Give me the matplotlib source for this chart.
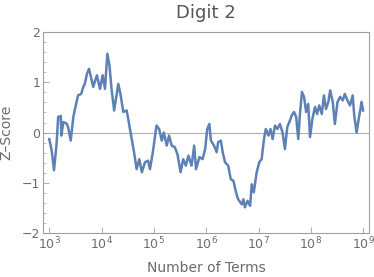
import numpy as np
import matplotlib
matplotlib.use("Agg")
import matplotlib.pyplot as plt
from matplotlib.ticker import FixedLocator, MultipleLocator

# log10 of the number of terms, and the running z-score
log_terms = [3.00, 3.046, 3.09, 3.14, 3.17, 3.22, 3.23, 3.27, 3.33, 3.36, 3.41, 3.46,
             3.50, 3.55, 3.61, 3.65, 3.68, 3.72, 3.76, 3.84, 3.91, 3.97, 4.02, 4.065,
             4.11, 4.15, 4.19, 4.24, 4.32, 4.365, 4.415, 4.48, 4.53, 4.575, 4.62, 4.67,
             4.72, 4.77, 4.83, 4.89, 4.925, 4.98, 5.05, 5.10, 5.15, 5.19, 5.245, 5.29,
             5.34, 5.40, 5.45, 5.51, 5.56, 5.61, 5.66, 5.72, 5.77, 5.805, 5.87, 5.93,
             5.98, 6.02, 6.06, 6.09, 6.15, 6.20, 6.23, 6.28, 6.315, 6.36, 6.42, 6.47,
             6.52, 6.57, 6.61, 6.68, 6.71, 6.74, 6.79, 6.84, 6.87, 6.91, 6.965, 7.015,
             7.06, 7.105, 7.14, 7.19, 7.23, 7.27, 7.315, 7.36, 7.41, 7.46, 7.505, 7.55,
             7.59, 7.635, 7.68, 7.72, 7.76, 7.79, 7.83, 7.87, 7.91, 7.95, 7.985, 8.03,
             8.08, 8.12, 8.16, 8.21, 8.25, 8.29, 8.335, 8.37, 8.42, 8.46, 8.51, 8.56,
             8.61, 8.65, 8.70, 8.75, 8.80, 8.83, 8.875, 8.915, 8.95, 8.97, 9.00]
z_score = [-0.13, -0.36, -0.75, -0.22, 0.31, 0.33, -0.06, 0.21, 0.18, 0.11, -0.16, 0.31,
           0.51, 0.74, 0.77, 0.91, 0.97, 1.17, 1.27, 0.91, 1.14, 0.87, 1.14, 0.87,
           1.57, 1.34, 0.87, 0.44, 0.97, 0.74, 0.41, 0.44, 0.14, -0.13, -0.39, -0.73,
           -0.53, -0.79, -0.59, -0.56, -0.73, -0.39, 0.14, 0.07, -0.16, 0.0, -0.26, -0.06,
           -0.26, -0.29, -0.43, -0.79, -0.53, -0.66, -0.46, -0.66, -0.26, -0.73, -0.49, -0.53,
           -0.33, 0.07, 0.17, -0.16, -0.26, -0.39, -0.19, -0.16, -0.39, -0.59, -0.66, -0.93,
           -0.96, -1.19, -1.33, -1.43, -1.33, -1.49, -1.36, -1.46, -1.03, -1.19, -0.79, -0.59,
           -0.53, -0.13, 0.07, -0.06, 0.07, -0.13, 0.14, 0.07, 0.17, 0.0, -0.33, 0.11,
           0.21, 0.34, 0.41, 0.31, -0.13, 0.34, 0.81, 0.71, 0.41, 0.57, -0.09, 0.27,
           0.51, 0.37, 0.54, 0.37, 0.74, 0.47, 0.61, 0.84, 0.61, 0.17, 0.61, 0.71,
           0.64, 0.77, 0.64, 0.54, 0.74, 0.34, 0.0, 0.27, 0.47, 0.61, 0.44]

x_ticks = [1e3, 1e4, 1e5, 1e6, 1e7, 1e8, 1e9]
x_labels = ["$10^{%d}$" % k for k in range(3, 10)]
y_ticks = [-2, -1, 0, 1, 2]
y_labels = ["\u22122", "\u22121", "0", "1", "2"]

text_gray = "#6b6b6b"
frame_gray = "#a0a0a0"

fig = plt.figure(figsize=(3.74, 2.77), dpi=100)
ax = fig.add_axes([0.115, 0.159, 0.872, 0.725])

ax.axhline(0, color="#b0b0b0", lw=0.8, zorder=1)
ax.plot(10 ** np.array(log_terms), z_score, color="#5E81B5", lw=1.8, zorder=2)

ax.set_xscale("log")
ax.set_xlim(10 ** 2.88, 10 ** 9.115)
ax.set_ylim(-2, 2)

ax.xaxis.set_major_locator(FixedLocator(x_ticks))
ax.set_xticklabels(x_labels)
ax.xaxis.set_minor_locator(FixedLocator([]))
ax.set_yticks(y_ticks)
ax.set_yticklabels(y_labels)
ax.yaxis.set_minor_locator(MultipleLocator(0.2))

ax.tick_params(axis="both", which="major", direction="in", length=4, width=0.6,
               color=frame_gray, labelcolor=text_gray, labelsize=9, pad=2)
ax.tick_params(axis="y", which="minor", direction="in", length=2.5, width=0.5,
               color=frame_gray)
ax.tick_params(top=False, right=False, which="both")

for s in ax.spines.values():
    s.set_color(frame_gray)
    s.set_linewidth(0.8)

ax.set_title("Digit 2", fontsize=13, color="#555555", pad=10)
ax.set_xlabel("Number of Terms", fontsize=10, color=text_gray, labelpad=6)
ax.set_ylabel("Z\u2013Score", fontsize=10, color=text_gray, labelpad=6)

fig.savefig("out.png", dpi=100)
